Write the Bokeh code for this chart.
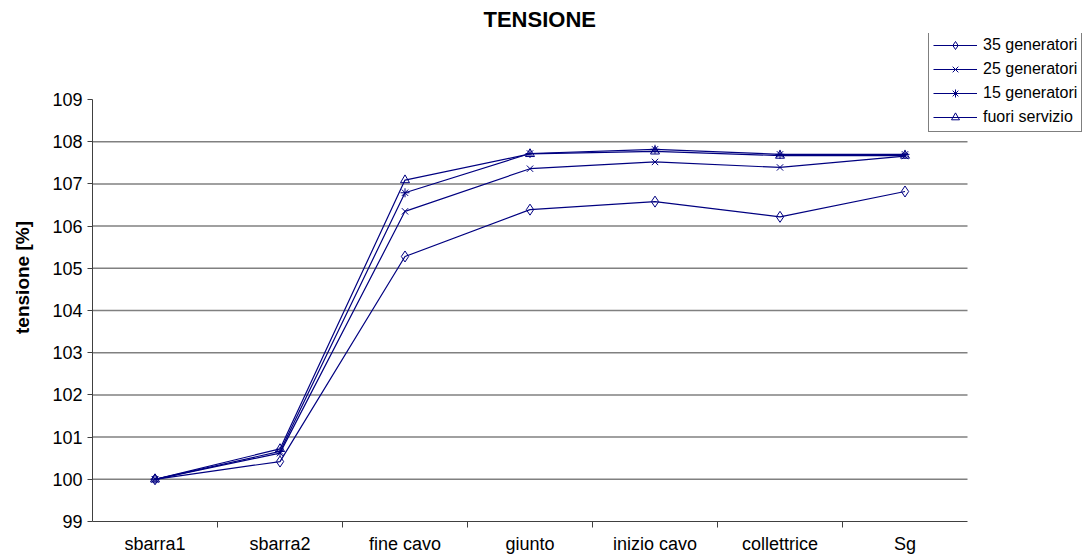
from bokeh.plotting import figure
from bokeh.models import (FixedTicker, Legend, LegendItem, LinearAxis, Range1d, Title)
from bokeh.embed import file_html
from bokeh.resources import INLINE

# Busbars / nodes along the connection
nodes = ["sbarra1", "sbarra2", "fine cavo", "giunto", "inizio cavo", "collettrice", "Sg"]

# Voltage [%] at each node for the four operating conditions
gen35 = [100.0, 100.42, 105.28, 106.39, 106.58, 106.22, 106.82]
gen25 = [100.0, 100.62, 106.35, 107.36, 107.52, 107.39, 107.66]
gen15 = [100.0, 100.66, 106.79, 107.72, 107.82, 107.70, 107.70]
fuori = [100.0, 100.72, 107.09, 107.71, 107.77, 107.67, 107.67]

y_ticks = [99, 100, 101, 102, 103, 104, 105, 106, 107, 108, 109]

FONT = "Liberation Sans"
LINE = "#000080"
AXIS = "#404040"

n = len(nodes)
xs = [i + 0.5 for i in range(n)]

# The frame is extended up and to the right so that the legend box can sit
# above the plotting area; axes and grid are bounded to the data region.
W, H = 1087, 556
left, top, bottom, right = 92, 33, 35, 0
px_per_y = 42.2
px_per_x = 125.0
y_top = y_ticks[0] + (H - top - bottom) / px_per_y
x_right = (W - left - right) / px_per_x

p = figure(width=W, height=H, output_backend="svg", toolbar_location=None,
           x_range=Range1d(0, x_right), y_range=Range1d(y_ticks[0], y_top),
           x_axis_location=None, y_axis_location=None,
           min_border_left=left, min_border_right=right, min_border_top=top,
           min_border_bottom=bottom)
p.outline_line_color = None
p.background_fill_color = "white"
p.border_fill_color = "white"
p.xgrid.visible = False
p.ygrid.visible = False

# Horizontal grid lines at the inner tick values
grid_vals = y_ticks[1:-1]
p.segment(x0=[0] * len(grid_vals), x1=[n] * len(grid_vals), y0=grid_vals, y1=grid_vals,
          line_color="#808080", line_width=1.5)

# Axes
yaxis = LinearAxis(ticker=FixedTicker(ticks=y_ticks), bounds=(y_ticks[0], y_ticks[-1]))
yaxis.axis_label = "tensione [%]"
yaxis.axis_label_text_font = FONT
yaxis.axis_label_text_font_style = "bold"
yaxis.axis_label_text_font_size = "19px"
yaxis.axis_label_text_color = "black"
yaxis.axis_label_standoff = 16
yaxis.major_label_text_font = FONT
yaxis.major_label_text_font_size = "18px"
yaxis.major_label_text_color = "black"
yaxis.major_tick_in = 0
yaxis.major_tick_out = 5
yaxis.minor_tick_out = 0
yaxis.minor_tick_in = 0
yaxis.axis_line_color = AXIS
yaxis.major_tick_line_color = AXIS
yaxis.major_label_standoff = 5
p.add_layout(yaxis, "left")

xaxis = LinearAxis(ticker=FixedTicker(ticks=xs, minor_ticks=list(range(1, n))),
                   bounds=(0, n))
xaxis.major_label_overrides = {x: name for x, name in zip(xs, nodes)}
xaxis.major_label_text_font = FONT
xaxis.major_label_text_font_size = "18px"
xaxis.major_label_text_color = "black"
xaxis.major_tick_in = 0
xaxis.major_tick_out = 0
xaxis.minor_tick_in = 0
xaxis.minor_tick_out = 6
xaxis.minor_tick_line_color = AXIS
xaxis.axis_line_color = AXIS
xaxis.major_label_standoff = 6
p.add_layout(xaxis, "below")

p.title = Title(text="TENSIONE", align="left", text_font=FONT, text_color="black",
                text_font_size="22px", text_font_style="bold", offset=391,
                standoff=3)

series = [
    ("35 generatori", gen35, "diamond", 11),
    ("25 generatori", gen25, "x", 9),
    ("15 generatori", gen15, "asterisk", 9),
    ("fuori servizio", fuori, "triangle", 9),
]

items = []
for name, vals, marker, size in series:
    ln = p.line(xs, vals, line_color=LINE, line_width=1.2)
    sc = p.scatter(xs, vals, marker=marker, size=size, line_color=LINE,
                   fill_color=None, line_width=1)
    items.append(LegendItem(label=name, renderers=[ln, sc]))

legend = Legend(items=items, location=(836, 389))
legend.label_text_font = FONT
legend.label_text_font_size = "16px"
legend.label_text_color = "black"
legend.glyph_width = 44
legend.glyph_height = 20
legend.label_height = 20
legend.spacing = 4
legend.padding = 4
legend.margin = 0
legend.label_standoff = 6
legend.border_line_color = "black"
legend.border_line_width = 1
legend.background_fill_color = "white"
legend.background_fill_alpha = 1
p.add_layout(legend, "center")

open("out.html", "w").write(file_html(p, INLINE))
